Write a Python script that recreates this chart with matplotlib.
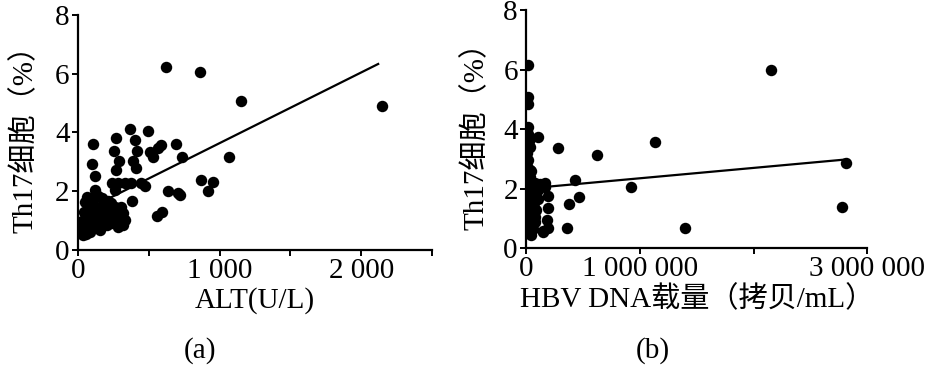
import numpy as np
import matplotlib
matplotlib.use("Agg")
import matplotlib.pyplot as plt

# panel (a): ALT vs Th17
alt_x = [619, 864, 1153, 2148, 106, 99, 122, 369, 494, 271, 400, 254, 414, 289, 388, 266, 412,
         506, 529, 565, 588, 694, 736, 1064, 871, 953, 918, 635, 718, 471, 384, 558, 593,
         120, 237, 284, 331, 378, 448, 261, 707,
         61, 108, 167, 214, 73, 143, 214, 284, 319, 61, 120, 190, 261, 331, 49, 120, 202, 284,
         38, 85, 26, 155, 237, 96, 49, 178, 249, 307, 306,
         30, 40, 70, 90, 110, 130, 150, 170, 180, 200, 220, 230, 260, 300, 320, 140, 80, 60]
alt_y = [6.22, 6.07, 5.07, 4.90, 3.61, 2.93, 2.50, 4.11, 4.06, 3.80, 3.75, 3.38, 3.38, 3.01, 3.01, 2.72, 2.78,
         3.35, 3.18, 3.46, 3.58, 3.61, 3.16, 3.16, 2.38, 2.30, 1.99, 2.02, 1.87, 2.16, 1.68, 1.17, 1.28,
         2.04, 2.27, 2.27, 2.27, 2.27, 2.27, 2.04, 1.93,
         1.81, 1.70, 1.76, 1.65, 1.47, 1.36, 1.41, 1.30, 1.25, 1.13, 1.08, 1.13, 1.02, 1.02, 0.79, 0.79, 0.85, 0.79,
         0.51, 0.62, 0.68, 0.68, 0.91, 1.25, 1.64, 1.53, 1.19, 1.47, 0.84,
         1.00, 1.30, 0.95, 1.55, 1.40, 0.95, 1.15, 1.30, 0.90, 1.60, 1.20, 1.60, 1.45, 1.15, 0.85, 1.85, 0.80, 0.55]
alt_fit_x = [30, 2120]
alt_fit_y = [1.30, 6.33]

# panel (b): HBV DNA load vs Th17
dna_x = [2155000, 1130000, 626000, 284000, 918000, 1395000, 2810000, 2780000, 430000, 468000, 377000,
         363000, 196000, 190000, 180000, 196000, 152000, 167000, 100000, 108000, 79000,
         15000, 15000, 15000, 15000, 20000, 25000, 30000, 10000, 20000, 5000, 30000, 10000, 35000, 5000,
         45000, 60000, 80000, 20000, 40000, 10000, 55000, 25000, 5000, 40000, 20000, 50000, 10000, 30000,
         60000, 5000, 25000, 10000, 40000, 90000, 120000, 80000, 70000, 105000, 164000, 90000, 61000, 149000,
         5000, 10000, 40000, 15000, 35000, 45000, 70000, 60000]
dna_y = [5.98, 3.58, 3.13, 3.36, 2.04, 0.67, 2.87, 1.38, 2.29, 1.71, 1.49,
         0.67, 1.76, 1.34, 0.95, 0.67, 0.56, 2.18, 3.72, 1.64, 0.86,
         6.17, 5.08, 4.85, 4.07, 3.85, 3.60, 3.40, 3.20, 2.95, 2.75, 2.62, 2.45, 2.39, 2.25,
         2.17, 2.20, 2.20, 2.05, 1.94, 1.85, 1.75, 1.60, 1.45, 1.40, 1.25, 1.15, 1.05, 0.95,
         0.85, 0.75, 0.65, 0.50, 0.45, 2.05, 2.15, 1.05, 1.85, 1.95, 2.06, 1.28, 1.05, 0.55,
         3.60, 2.00, 2.60, 1.65, 1.15, 0.80, 1.50, 0.65]
dna_fit_x = [10000, 2820000]
dna_fit_y = [2.00, 2.98]

y_ticks = [0, 2, 4, 6, 8]
alt_ticks = [0, 500, 1000, 1500, 2000, 2500]
alt_labels = ["0", "", "1 000", "", "2 000", ""]
dna_ticks = [0, 1000000, 2000000, 3000000]
dna_labels = ["0", "1 000 000", "", "3 000 000"]

fam = ["Liberation Serif", "Noto Sans CJK SC"]
plt.rcParams["font.family"] = fam
fs = 21

fig = plt.figure(figsize=(9.28, 3.73), dpi=100)
ax1 = fig.add_axes([0.084, 0.33, 0.3815, 0.63])
ax2 = fig.add_axes([0.567, 0.335, 0.3675, 0.638])

def style(ax):
    for s in ["top", "right"]:
        ax.spines[s].set_visible(False)
    for s in ["left", "bottom"]:
        ax.spines[s].set_linewidth(1.6)
    ax.tick_params(direction="out", length=4, width=1.4, labelsize=fs, pad=2)
    ax.set_ylim(0, 8)
    ax.set_yticks(y_ticks)

ax1.scatter(alt_x, alt_y, s=68, c="black", linewidths=0, zorder=3)
ax1.plot(alt_fit_x, alt_fit_y, color="black", lw=1.6, zorder=2)
style(ax1)
ax1.set_xlim(0, 2500)
ax1.set_xticks(alt_ticks)
ax1.set_xticklabels(alt_labels)
ax1.set_xlabel("ALT(U/L)", fontsize=fs, labelpad=2)
ax1.set_ylabel("Th17细胞（%）", fontsize=fs, labelpad=12)

ax2.scatter(dna_x, dna_y, s=68, c="black", linewidths=0, zorder=3)
ax2.plot(dna_fit_x, dna_fit_y, color="black", lw=1.6, zorder=2)
style(ax2)
ax2.set_xlim(0, 3000000)
ax2.set_xticks(dna_ticks)
ax2.set_xticklabels(dna_labels)
ax2.set_xlabel("HBV DNA载量（拷贝/mL）", fontsize=fs, labelpad=2)
ax2.set_ylabel("Th17细胞（%）", fontsize=fs, labelpad=10)

fig.text(0.216, 0.04, "(a)", fontsize=fs, ha="center")
fig.text(0.703, 0.04, "(b)", fontsize=fs, ha="center")

fig.savefig("out.png", dpi=100)
